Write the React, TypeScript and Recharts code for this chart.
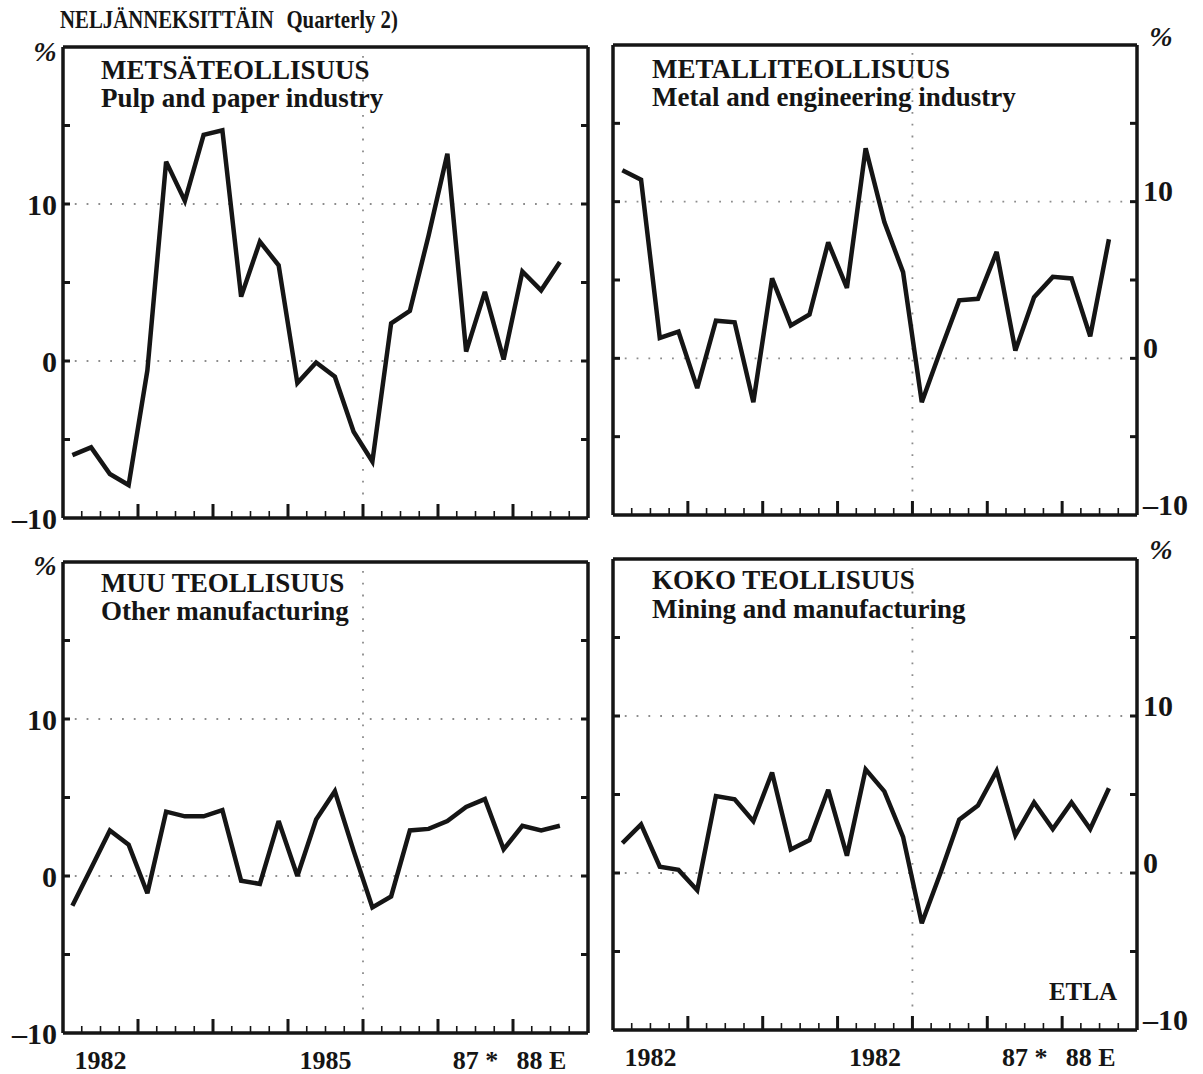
import { LineChart, Line, XAxis, YAxis, ReferenceLine } from "recharts";

// volume change on the same quarter a year earlier, %, 1982 I ... 1988 III
const years = [1982, 1983, 1984, 1985, 1986, 1987, 1988];
const quarterNames = ["I", "II", "III", "IV"];

const pulpPaper = [-6.0, -5.5, -7.2, -7.9, -0.6, 12.7, 10.2, 14.4, 14.7, 4.1, 7.6, 6.1, -1.4, -0.1, -1.0, -4.5, -6.4, 2.4, 3.2, 8.0, 13.2, 0.6, 4.4, 0.1, 5.7, 4.5, 6.3];
const metalEngineering = [12.0, 11.4, 1.3, 1.7, -1.9, 2.4, 2.3, -2.8, 5.1, 2.1, 2.8, 7.4, 4.5, 13.4, 8.7, 5.5, -2.8, 0.5, 3.7, 3.8, 6.8, 0.5, 3.9, 5.2, 5.1, 1.4, 7.6];
const otherManufacturing = [-1.9, 0.5, 2.9, 2.0, -1.1, 4.1, 3.8, 3.8, 4.2, -0.3, -0.5, 3.5, 0.0, 3.6, 5.4, 1.6, -2.0, -1.3, 2.9, 3.0, 3.5, 4.4, 4.9, 1.7, 3.2, 2.9, 3.2];
const miningManufacturing = [1.9, 3.1, 0.4, 0.2, -1.1, 4.9, 4.7, 3.3, 6.4, 1.5, 2.1, 5.3, 1.1, 6.6, 5.2, 2.3, -3.2, 0.0, 3.4, 4.3, 6.5, 2.4, 4.5, 2.8, 4.5, 2.8, 5.4];

const yTicks = [-10, -5, 0, 5, 10, 15, 20];
const yLabelled = [-10, 0, 10];
const yearLabelPos = [1982.5, 1985.5, 1987.5, 1988.38];
const leftYearLabels = ["1982", "1985", "87 *", "88 E"];
const rightYearLabels = ["1982", "1982", "87 *", "88 E"];

const quarters = years
  .flatMap((y) => quarterNames.map((q, i) => ({ label: `${y} ${q}`, t: y + (i + 0.5) / 4 })))
  .slice(0, pulpPaper.length);
const quarterTicks = Array.from({ length: 29 }, (_, i) => 1982 + i / 4);

const toRows = (vals: number[]) => vals.map((v, i) => ({ q: quarters[i].label, t: quarters[i].t, v }));

const FONT = '"Liberation Serif", "Times New Roman", serif';
const INK = "#151515";
const DOTS = "#8c8c8c";

type Box = { left: number; top: number; width: number; height: number };
type Plot = { x0: number; x1: number; y0: number; y1: number };

const fmt = (v: number) => (v < 0 ? `\u2013${-v}` : `${v}`);

function Panel({ values, box, plot, side, yearLabels }: { values: number[]; box: Box; plot: Plot; side: "left" | "right"; yearLabels?: string[] }) {
  // axes are 1px wide/high, so the margins leave room for them
  const margin = {
    left: plot.x0 - box.left - 1,
    top: plot.y0 - box.top - 1,
    right: box.left + box.width - plot.x1 - 1,
    bottom: box.top + box.height - plot.y1 - 2,
  };
  const pl = plot.x0 - box.left;
  const pr = plot.x1 - box.left;
  const pb = plot.y1 - box.top;
  const frame = { stroke: INK, strokeWidth: 3.5 };

  const xTick = (p: any) => {
    const v = p.payload.value;
    if (v <= 1982 || v >= 1989) return <g />;
    const major = Math.abs(v - Math.round(v)) < 1e-6;
    return <line x1={p.x} x2={p.x} y1={pb} y2={pb - (major ? 14 : 7)} stroke={INK} strokeWidth={major ? 3 : 1.6} />;
  };

  const labelTick = (p: any) => (
    <text x={p.x} y={pb + 36} textAnchor="middle" fontFamily={FONT} fontWeight="bold" fontSize={26} fill={INK}>
      {yearLabels ? yearLabels[p.index] : ""}
    </text>
  );

  const yTick = (axis: "left" | "right") => (p: any) => {
    const v = p.payload.value;
    const y = p.y;
    const ex = axis === "left" ? pl : pr;
    const dir = axis === "left" ? 1 : -1;
    const showMark = v > -10 && v < 20;
    const showLabel = axis === side && yLabelled.includes(v);
    return (
      <g>
        {showMark && <line x1={ex} x2={ex + dir * 7} y1={y} y2={y} stroke={INK} strokeWidth={3} />}
        {showLabel && (
          <text
            x={axis === "left" ? ex - 6 : ex + 6}
            y={axis === "left" ? y : y - 11}
            dy="0.36em"
            textAnchor={axis === "left" ? "end" : "start"}
            fontFamily={FONT}
            fontWeight="bold"
            fontSize={30}
            fill={INK}
          >
            {fmt(v)}
          </text>
        )}
      </g>
    );
  };

  return (
    <div style={{ position: "absolute", left: box.left, top: box.top }}>
      <LineChart width={box.width} height={box.height} data={toRows(values)} margin={margin}>
        <XAxis xAxisId="b" dataKey="t" type="number" domain={[1982, 1989]} ticks={quarterTicks} height={1} axisLine={frame} tickLine={false} tick={xTick} interval={0} allowDataOverflow />
        <XAxis xAxisId="lbl" dataKey="t" type="number" domain={[1982, 1989]} ticks={yearLabelPos} height={1} axisLine={false} tickLine={false} tick={labelTick} interval={0} allowDataOverflow />
        <XAxis xAxisId="top" orientation="top" dataKey="t" type="number" domain={[1982, 1989]} height={1} axisLine={frame} tickLine={false} tick={false} allowDataOverflow />
        <YAxis yAxisId="l" dataKey="v" type="number" domain={[-10, 20]} ticks={yTicks} width={1} axisLine={frame} tickLine={false} tick={yTick("left")} interval={0} allowDataOverflow />
        <YAxis yAxisId="r" dataKey="v" orientation="right" type="number" domain={[-10, 20]} ticks={yTicks} width={1} axisLine={frame} tickLine={false} tick={yTick("right")} interval={0} allowDataOverflow />
        <ReferenceLine xAxisId="b" yAxisId="l" y={0} stroke={DOTS} strokeWidth={1.8} strokeDasharray="1.8 10" />
        <ReferenceLine xAxisId="b" yAxisId="l" y={10} stroke={DOTS} strokeWidth={1.8} strokeDasharray="1.8 10" />
        <ReferenceLine xAxisId="b" yAxisId="l" x={1986} stroke={DOTS} strokeWidth={1.8} strokeDasharray="1.8 10" />
        <Line xAxisId="b" yAxisId="l" type="linear" dataKey="v" stroke={INK} strokeWidth={4.5} strokeLinejoin="miter" strokeMiterlimit={3} dot={false} activeDot={false} isAnimationActive={false} />
      </LineChart>
    </div>
  );
}

const textStyle = { fontFamily: FONT, fontWeight: "bold" as const, fill: INK };

export default function App() {
  return (
    <div style={{ position: "absolute", left: 0, top: 0, width: 1203, height: 1074, background: "#fff", overflow: "hidden" }}>
      <Panel values={pulpPaper} side="left" box={{ left: 0, top: 0, width: 600, height: 540 }} plot={{ x0: 63, x1: 588, y0: 47, y1: 518 }} />
      <Panel values={metalEngineering} side="right" box={{ left: 600, top: 0, width: 603, height: 540 }} plot={{ x0: 613, x1: 1137, y0: 45, y1: 515 }} />
      <Panel values={otherManufacturing} side="left" yearLabels={leftYearLabels} box={{ left: 0, top: 540, width: 600, height: 534 }} plot={{ x0: 63, x1: 588, y0: 562, y1: 1033 }} />
      <Panel values={miningManufacturing} side="right" yearLabels={rightYearLabels} box={{ left: 600, top: 540, width: 603, height: 534 }} plot={{ x0: 613, x1: 1137, y0: 559, y1: 1030 }} />
      <svg width={1203} height={1074} style={{ position: "absolute", left: 0, top: 0, pointerEvents: "none" }}>
        <g transform="translate(60,28) scale(0.8,1)">
          <text x={0} y={0} fontSize={26} {...textStyle}>NELJÄNNEKSITTÄIN</text>
          <text x={283} y={0} fontSize={26} {...textStyle}>Quarterly 2)</text>
        </g>
        <text x={45} y={61} fontSize={28} fontStyle="italic" textAnchor="middle" {...textStyle}>%</text>
        <text x={45} y={575} fontSize={28} fontStyle="italic" textAnchor="middle" {...textStyle}>%</text>
        <text x={1161} y={46} fontSize={28} fontStyle="italic" textAnchor="middle" {...textStyle}>%</text>
        <text x={1161} y={559} fontSize={28} fontStyle="italic" textAnchor="middle" {...textStyle}>%</text>

        <text x={101} y={79} fontSize={27} {...textStyle}>METSÄTEOLLISUUS</text>
        <text x={101} y={107} fontSize={27} {...textStyle}>Pulp and paper industry</text>
        <text x={652} y={78} fontSize={27} {...textStyle}>METALLITEOLLISUUS</text>
        <text x={652} y={106} fontSize={27} {...textStyle}>Metal and engineering industry</text>
        <text x={101} y={592} fontSize={27} {...textStyle}>MUU TEOLLISUUS</text>
        <text x={101} y={620} fontSize={27} {...textStyle}>Other manufacturing</text>
        <text x={652} y={589} fontSize={27} {...textStyle}>KOKO TEOLLISUUS</text>
        <text x={652} y={618} fontSize={27} {...textStyle}>Mining and manufacturing</text>
        <text x={1117} y={1000} fontSize={25} textAnchor="end" {...textStyle}>ETLA</text>
      </svg>
    </div>
  );
}
